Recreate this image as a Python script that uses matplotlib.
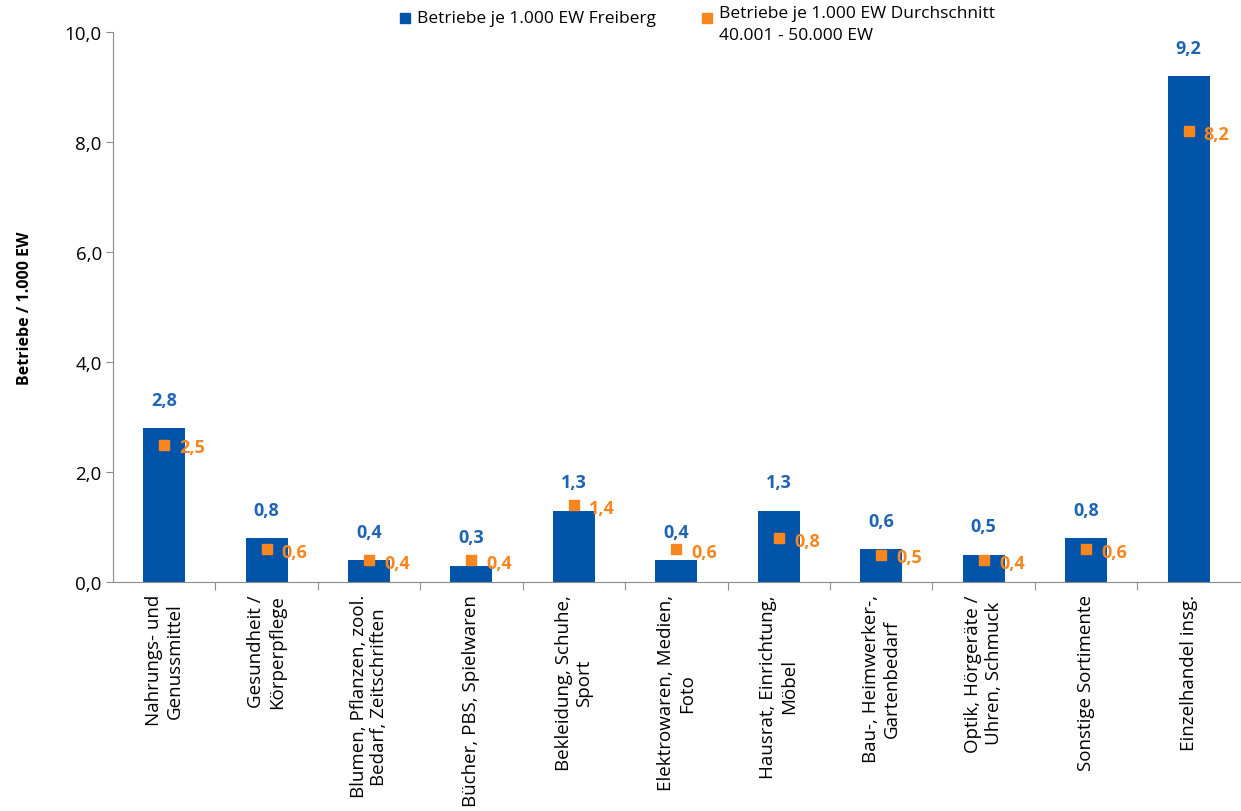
#!/usr/bin/env python3
"""Betriebe je 1.000 EW: Freiberg vs. Durchschnitt 40.001 - 50.000 EW"""
import matplotlib
matplotlib.use('Agg')
import matplotlib.pyplot as plt

categories = [
    'Nahrungs- und\nGenussmittel',
    'Gesundheit /\nKörperpflege',
    'Blumen, Pflanzen, zool.\nBedarf, Zeitschriften',
    'Bücher, PBS, Spielwaren',
    'Bekleidung, Schuhe,\nSport',
    'Elektrowaren, Medien,\nFoto',
    'Hausrat, Einrichtung,\nMöbel',
    'Bau-, Heimwerker-,\nGartenbedarf',
    'Optik, Hörgeräte /\nUhren, Schmuck',
    'Sonstige Sortimente',
    'Einzelhandel insg.',
]
freiberg = [2.8, 0.8, 0.4, 0.3, 1.3, 0.4, 1.3, 0.6, 0.5, 0.8, 9.2]
durchschnitt = [2.5, 0.6, 0.4, 0.4, 1.4, 0.6, 0.8, 0.5, 0.4, 0.6, 8.2]

label_freiberg = 'Betriebe je 1.000 EW Freiberg'
label_schnitt = 'Betriebe je 1.000 EW Durchschnitt\n40.001 - 50.000 EW'
y_title = 'Betriebe / 1.000 EW'

BLUE = '#0254A8'
BLUE_TXT = '#1F63B5'
ORANGE = '#F7861E'
AXIS = '#8C8C8C'

plt.rcParams['font.family'] = ['Open Sans', 'DejaVu Sans']


def fmt(v):
    return f'{v:.1f}'.replace('.', ',')


fig = plt.figure(figsize=(12.41, 8.12), dpi=100)
ax = fig.add_axes([0.091, 0.282, 0.908, 0.677])

x = list(range(len(categories)))
ax.bar(x, freiberg, width=0.41, color=BLUE, zorder=2)
ax.plot(x, durchschnitt, linestyle='none', marker='s', markersize=6.5,
        color=ORANGE, zorder=3)

for xi, v in zip(x, freiberg):
    ax.annotate(fmt(v), (xi, v), xytext=(0, 14),
                textcoords='offset points', ha='center', va='bottom',
                color=BLUE_TXT, fontsize=13, fontweight='bold')
for xi, v in zip(x, durchschnitt):
    ax.annotate(fmt(v), (xi, v), xytext=(11, -2),
                textcoords='offset points', ha='left', va='center',
                color=ORANGE, fontsize=13, fontweight='bold')

ax.set_xlim(-0.5, len(categories) - 0.5)
ax.set_ylim(0, 10)
yticks = [0, 2, 4, 6, 8, 10]
ax.set_yticks(yticks)
ax.set_yticklabels([fmt(t) for t in yticks], fontsize=13.5)
ax.set_ylabel(y_title, fontsize=11.5, fontweight='bold')
ax.yaxis.set_label_coords(-0.071, 0.5)

# category labels centred under bars, tick marks between categories
ax.set_xticks([i + 0.5 for i in x[:-1]])
ax.set_xticklabels([])
ax.tick_params(axis='x', length=6, color=AXIS, direction='out')
ax.tick_params(axis='y', length=5, color=AXIS, direction='out', pad=3)
for xi, cat in zip(x, categories):
    ax.text(xi, -0.22, cat, rotation=90, ha='center', va='top',
            multialignment='center', fontsize=13.5)

for s in ['top', 'right']:
    ax.spines[s].set_visible(False)
for s in ['left', 'bottom']:
    ax.spines[s].set_color(AXIS)

# legend across the top
fig.lines.append(plt.Line2D([0.3265], [0.977], marker='s', markersize=7,
                            color=BLUE, linestyle='none',
                            transform=fig.transFigure))
fig.text(0.336, 0.977, label_freiberg, ha='left', va='center', fontsize=12.5)
fig.lines.append(plt.Line2D([0.5695], [0.977], marker='s', markersize=7,
                            color=ORANGE, linestyle='none',
                            transform=fig.transFigure))
fig.text(0.579, 0.992, label_schnitt, ha='left', va='top', fontsize=12.5,
         linespacing=1.45)

plt.savefig('out.png', dpi=100)
plt.close()
